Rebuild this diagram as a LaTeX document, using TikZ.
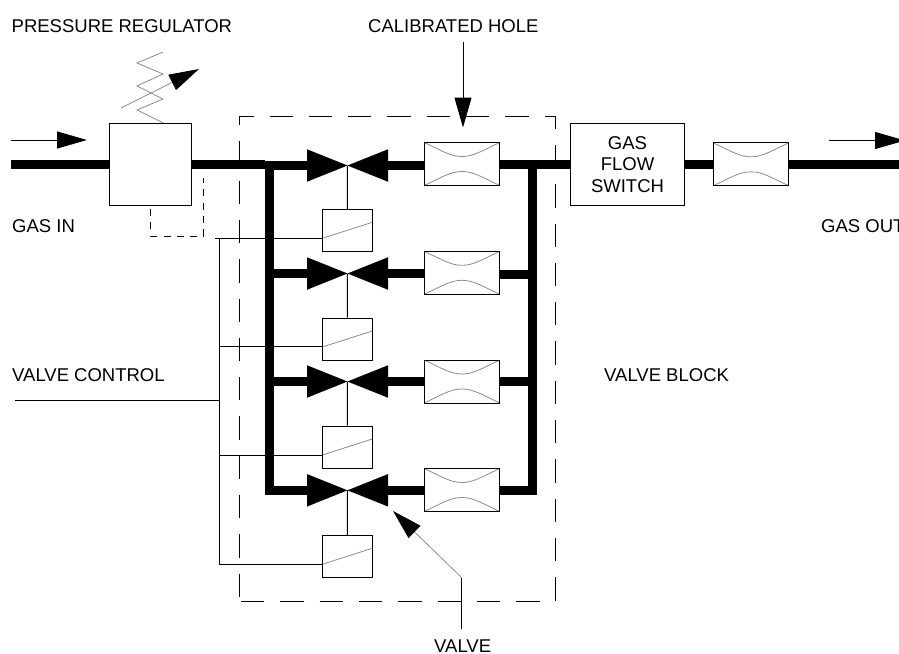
\documentclass[tikz,border=0pt]{standalone}
\usepackage{fontspec}
\setmainfont{Liberation Sans}
\usetikzlibrary{arrows.meta, calc}

\tikzset{
    every node/.style={font=\fontsize{18.5}{21.5}\selectfont},
    txt/.style={inner sep=0pt, anchor=base west},
    box/.style={draw, fill=white, line width=1pt, inner sep=0pt},
    pipe/.style={line width=9pt, miter limit=10},
    thinline/.style={line width=1pt},
    greyline/.style={line width=0.8pt, draw=black!45},
    bigtip/.style={-{Triangle[length=30pt, width=17pt, color=black, fill=black]}},
    orifice/.style={box, minimum width=75.5pt, minimum height=43pt, path picture={
        \draw[greyline] (path picture bounding box.north west)
            .. controls +(19pt,-9pt) and ($(path picture bounding box.center)+(-11pt,7.5pt)$) .. ($(path picture bounding box.center)+(0pt,7.5pt)$)
            .. controls +(11pt,0pt) and ($(path picture bounding box.north east)+(-19pt,-9pt)$) .. (path picture bounding box.north east);
        \draw[greyline] (path picture bounding box.south west)
            .. controls +(19pt,9pt) and ($(path picture bounding box.center)+(-11pt,-7.5pt)$) .. ($(path picture bounding box.center)+(0pt,-7.5pt)$)
            .. controls +(11pt,0pt) and ($(path picture bounding box.south east)+(-19pt,9pt)$) .. (path picture bounding box.south east);
    }},
    actuator/.style={box, minimum width=50pt, minimum height=42pt, path picture={
        \draw[greyline] ($(path picture bounding box.west)+(0pt,-8pt)$) -- ($(path picture bounding box.east)+(0pt,8pt)$);
    }},
    valve/.style={inner sep=0pt, minimum width=81pt, minimum height=32.5pt, path picture={
        \fill (path picture bounding box.north west) -- (path picture bounding box.center)
            -- (path picture bounding box.south west) -- cycle;
        \fill (path picture bounding box.north east) -- (path picture bounding box.center)
            -- (path picture bounding box.south east) -- cycle;
    }}
}

\begin{document}
\begin{tikzpicture}[x=1pt, y=-1pt]
    \useasboundingbox (0,0) rectangle (899,653);

    \node[draw, line width=1pt, dash pattern=on 23.3pt off 16pt, dash phase=37.7pt, minimum width=315.5pt, minimum height=485pt, inner sep=0pt] (block) at (397.25,358.5) {};

    \node[box, minimum width=82pt, minimum height=82pt] (regulator) at (150.5,164.3) {};
    \node[box, minimum width=114.5pt, minimum height=82pt, align=center] (flow) at (627.5,164.3) {GAS\\FLOW\\SWITCH};
    \node[orifice] (hole e) at (751,164.3) {};

    \node[valve] (valve a) at (347.5,165.5) {};
    \node[valve] (valve b) at (347.5,273.5) {};
    \node[valve] (valve c) at (347.5,381.5) {};
    \node[valve] (valve d) at (347.5,490.3) {};

    \node[orifice] (hole a) at (462,164) {};
    \node[orifice] (hole b) at (462,272.8) {};
    \node[orifice] (hole c) at (462,381.5) {};
    \node[orifice] (hole d) at (462,490) {};

    \node[actuator] (act a) at (347.3,230.3) {};
    \node[actuator] (act b) at (347.3,339) {};
    \node[actuator] (act c) at (347.3,447) {};
    \node[actuator] (act d) at (347.3,556.3) {};

    \node[txt] (pressure) at (11.5,32.5) {PRESSURE REGULATOR};
    \node[txt] (calibrated) at (368,32.5) {CALIBRATED HOLE};
    \node[txt] (gasin) at (12,232) {GAS IN};
    \node[txt] (gasout) at (821,232) {GAS OUT};
    \node[txt] (control) at (12,381.5) {VALVE CONTROL};
    \node[txt] (vblock) at (604,381.5) {VALVE BLOCK};
    \node[txt] (vlabel) at (434,652) {VALVE};

    \coordinate (in a) at (11,164.5);
    \coordinate (out a) at (899,164.5);
    \coordinate (left top) at (269.5,160.5);
    \coordinate (left stub) at (265,164.5);
    \coordinate (right top) at (532.7,164.5);
    \coordinate (tee b) at (532.7,274.5);
    \coordinate (tap a) at (215,238);
    \coordinate (tap b) at (219,346.5);
    \coordinate (tap c) at (219,455);
    \coordinate (tap d) at (219,564);
    \coordinate (bus top) at (219,238);
    \coordinate (control in) at (15,400);
    \coordinate (bus joint) at (219,400);
    \coordinate (sense corner) at (203.5,236);
    \coordinate (sense end) at (203.5,178);

    \draw[thinline] (tap a) -- (tap a -| act a.west);
    \draw[thinline] (tap b) -- (tap b -| act b.west);
    \draw[thinline] (tap c) -- (tap c -| act c.west);
    \draw[thinline] (tap d) -- (tap d -| act d.west);
    \draw[thinline] (bus top) -- (tap d);
    \draw[thinline] (control in) -- (bus joint);

    \draw[thinline] (valve a.center) -- (act a.north);
    \draw[thinline] (valve b.center) -- (act b.north);
    \draw[thinline] (valve c.center) -- (act c.north);
    \draw[thinline] (valve d.center) -- (act d.north);

    \draw[thinline, dash pattern=on 7pt off 6.3pt, dash phase=10pt] (regulator.south) |- (sense corner) -- (sense end);

    \draw[pipe] (in a) -- (in a -| regulator.west);
    \draw[pipe] (regulator.east |- in a) -- (left stub);
    \draw[pipe] (valve d.west) -| (left top);
    \draw[pipe] (left top |- valve a) -- (valve a.west);
    \draw[pipe] (left top |- valve b) -- (valve b.west);
    \draw[pipe] (left top |- valve c) -- (valve c.west);
    \draw[pipe] (valve a.east) -- (valve a.east -| hole a.west);
    \draw[pipe] (valve b.east) -- (valve b.east -| hole b.west);
    \draw[pipe] (valve c.east) -- (valve c.east -| hole c.west);
    \draw[pipe] (valve d.east) -- (valve d.east -| hole d.west);
    \draw[pipe] (hole a.east |- in a) -- (in a -| flow.west);
    \draw[pipe] (tee b -| hole b.east) -- (tee b);
    \draw[pipe] (hole c.east) -- (right top |- hole c.east);
    \draw[pipe] (hole d.east) -| (right top);
    \draw[pipe] (flow.east |- in a) -- (in a -| hole e.west);
    \draw[pipe] (hole e.east |- in a) -- (out a);

    \coordinate (spring a) at (163,52);
    \coordinate (spring b) at (137,63);
    \coordinate (spring c) at (163,74);
    \coordinate (spring d) at (137,86);
    \coordinate (spring e) at (163,99);
    \coordinate (spring f) at (137,110);
    \draw[greyline] (spring a) -- (spring b) -- (spring c) -- (spring d) -- (spring e) -- (spring f) -- (regulator.north -| spring a);

    \coordinate (knob tail) at (121,108);
    \coordinate (knob tip) at (199,69);
    \draw[greyline, bigtip] (knob tail) -- (knob tip);

    \coordinate (in tail) at (11,140);
    \coordinate (in tip) at (87,140);
    \draw[thinline, bigtip] (in tail) -- (in tip);
    \coordinate (out tail) at (829,140.5);
    \coordinate (out tip) at (905,140.5);
    \draw[thinline, bigtip] (out tail) -- (out tip);

    \coordinate (cal tail) at (463,42);
    \coordinate (cal tip) at (463,127.5);
    \draw[thinline, bigtip] (cal tail) -- (cal tip);

    \coordinate (pointer base) at (461.5,629);
    \coordinate (pointer bend) at (461.5,577.5);
    \coordinate (pointer tip) at (393,511);
    \draw[thinline] (pointer base) -- (pointer bend);
    \draw[greyline, bigtip] (pointer bend) -- (pointer tip);
\end{tikzpicture}
\end{document}
